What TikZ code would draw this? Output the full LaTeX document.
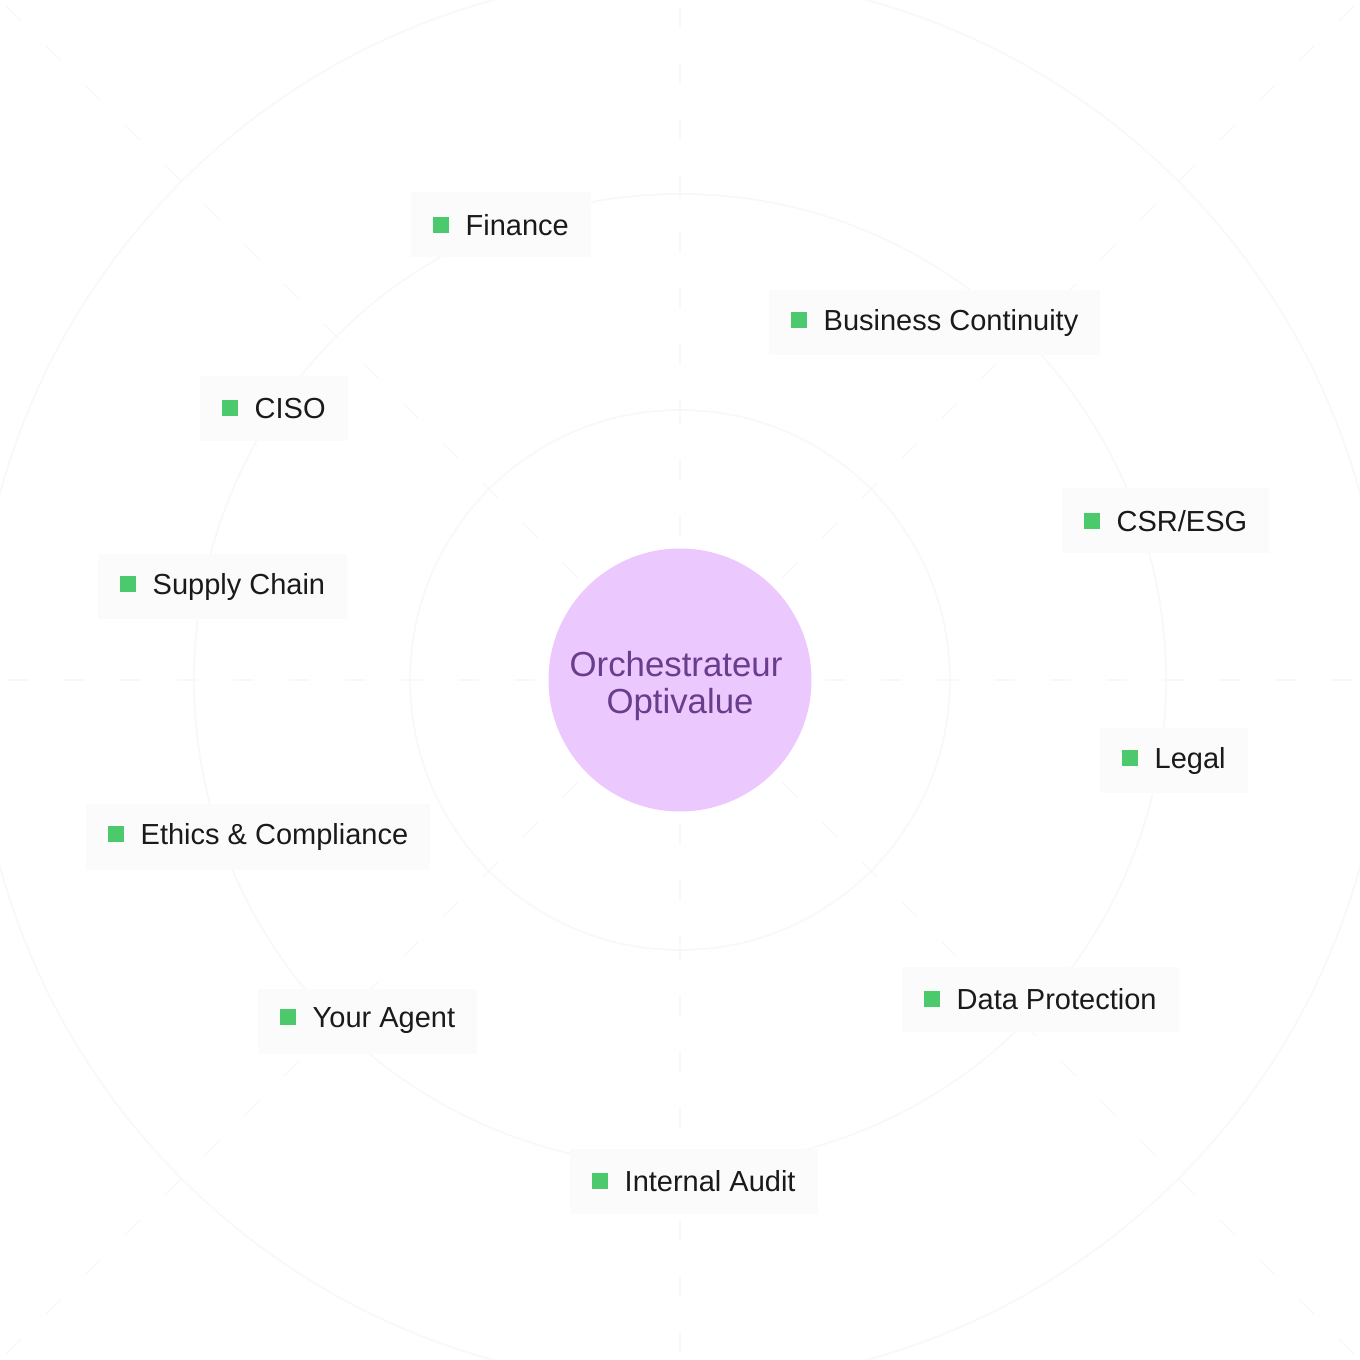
\documentclass[tikz,border=0pt]{standalone}
\usepackage{fontspec}
\setmainfont{Liberation Sans}
\usepackage{xcolor}
\usetikzlibrary{positioning}

\definecolor{tagGreen}{HTML}{4CC96C}
\definecolor{hubFill}{HTML}{EBC8FD}
\definecolor{hubText}{HTML}{6A3D8C}
\definecolor{labelText}{HTML}{1A1A1A}
\definecolor{labelBg}{HTML}{FCFBFC}
\definecolor{ringLine}{HTML}{F8F8F8}

\newcommand{\tagsq}{\raisebox{0.25mm}{\textcolor{tagGreen}{\rule{1.6mm}{1.6mm}}}\hspace{1.7mm}}

\begin{document}
\begin{tikzpicture}[
  ring/.style={draw=ringLine, line width=0.5pt},
  spoke/.style={draw=ringLine, line width=0.5pt, dashed, dash pattern=on 6pt off 10pt},
  hub/.style={circle, fill=hubFill, minimum size=2.63cm, inner sep=0pt,
              text=hubText, align=center, font=\fontsize{9.9}{10.8}\selectfont},
  tag/.style={rectangle, fill=labelBg, anchor=west, minimum height=0.65cm,
              inner xsep=0.22cm, text=labelText, font=\fontsize{8.25}{10}\selectfont}
]

% Frame
\useasboundingbox (-6.8,-6.8) rectangle (6.8,6.8);

% Background rings and spokes
\draw[ring] (0,0) circle (2.70);
\draw[ring] (0,0) circle (4.86);
\draw[ring] (0,0) circle (7.05);
\foreach \a in {0,45,...,315}
  \draw[spoke] (\a:1.45) -- (\a:9.6);

% Hub
\node[hub] (hub) at (0,0) {\rule{0pt}{10.6pt}Orchestrateur\kern0.8mm\\Optivalue};

% Domain tags
\node[tag] (finance) at (-2.70,4.55) {\tagsq Finance};
\node[tag] (bcm) at (0.88,3.57) {\tagsq Business Continuity};
\node[tag] (ciso) at (-4.81,2.71) {\tagsq CISO};
\node[tag] (csr) at (3.81,1.59) {\tagsq CSR/ESG};
\node[tag] (supply) at (-5.83,0.93) {\tagsq Supply Chain};
\node[tag] (legal) at (4.19,-0.81) {\tagsq Legal};
\node[tag] (ethics) at (-5.95,-1.57) {\tagsq Ethics \& Compliance};
\node[tag] (dpo) at (2.21,-3.19) {\tagsq Data Protection};
\node[tag] (agent) at (-4.23,-3.41) {\tagsq Your Agent};
\node[tag] (audit) at (-1.11,-5.01) {\tagsq Internal Audit};

\end{tikzpicture}
\end{document}
